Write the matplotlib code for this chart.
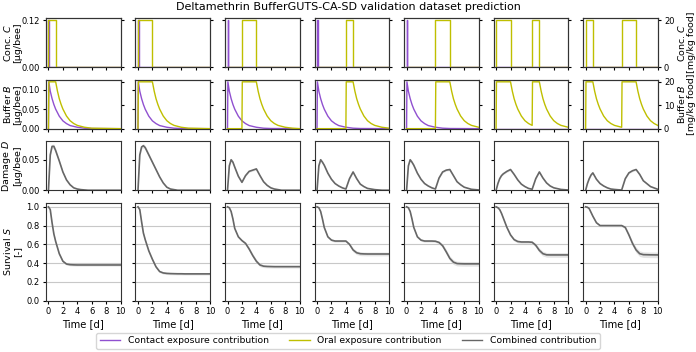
import numpy as np
import matplotlib
matplotlib.use("Agg")
from matplotlib import pyplot as plt
from matplotlib.lines import Line2D

# ---- data ----
title = "Deltamethrin BufferGUTS-CA-SD validation dataset prediction"
n_cols = 7

# exposure scenario per column
has_contact = [True, True, True, True, True, False, False]
contact_level = 0.12          # µg/bee
contact_pulse = (0.0, 0.1)    # d
oral_level = 20.0             # mg/kg food
oral_windows = [
    [(0, 1)],
    [(0, 2)],
    [(2, 4)],
    [(4, 5)],
    [(4, 6)],
    [(0, 2), (5, 6)],
    [(0, 1), (5, 7)],
]

# contact buffer (same in every column with contact exposure)
contact_b_t = [0, 0.05, 0.25, 0.5, 0.75, 1, 1.5, 2, 2.5, 3, 4, 5, 6, 10]
contact_b = [0, 0.12, 0.096, 0.077, 0.062, 0.050, 0.032, 0.020, 0.013, 0.008,
             0.0036, 0.0012, 0.0004, 0]

# oral buffer per column
oral_b_t = [
    [0, 0.05, 1, 1.25, 1.5, 1.75, 2, 2.5, 3, 3.5, 4, 5, 6, 10],
    [0, 0.05, 2, 2.25, 2.5, 2.75, 3, 3.5, 4, 4.5, 5, 6, 7, 10],
    [0, 2, 2.05, 4, 4.25, 4.5, 4.75, 5, 5.5, 6, 6.5, 7, 8, 9, 10],
    [0, 4, 4.05, 5, 5.25, 5.5, 5.75, 6, 6.5, 7, 7.5, 8, 9, 10],
    [0, 4, 4.05, 6, 6.25, 6.5, 6.75, 7, 7.5, 8, 8.5, 9, 10],
    [0, 0.05, 2, 2.25, 2.5, 2.75, 3, 3.5, 4, 4.5, 5, 5.05, 6, 6.25, 6.5, 6.75,
     7, 7.5, 8, 8.5, 9, 10],
    [0, 0.05, 1, 1.25, 1.5, 1.75, 2, 2.5, 3, 3.5, 4, 5, 5.05, 7, 7.25, 7.5,
     7.75, 8, 8.5, 9, 9.5, 10],
]
oral_b = [
    [0, 20, 20, 16, 12.8, 10.4, 8.4, 5.4, 3.4, 2.2, 1.4, 0.6, 0.2, 0],
    [0, 20, 20, 16, 12.8, 10.4, 8.4, 5.4, 3.4, 2.2, 1.4, 0.6, 0.2, 0],
    [0, 0, 20, 20, 16, 12.8, 10.4, 8.4, 5.4, 3.4, 2.2, 1.4, 0.6, 0.2, 0],
    [0, 0, 20, 20, 16, 12.8, 10.4, 8.4, 5.4, 3.4, 2.2, 1.4, 0.6, 0.2],
    [0, 0, 20, 20, 16, 12.8, 10.4, 8.4, 5.4, 3.4, 2.2, 1.4, 0.6],
    [0, 20, 20, 16, 12.8, 10.4, 8.4, 5.4, 3.4, 2.2, 1.4, 20, 20, 16, 12.8, 10.4,
     8.4, 5.4, 3.4, 2.2, 1.4, 0.6],
    [0, 20, 20, 16, 12.8, 10.4, 8.4, 5.4, 3.4, 2.2, 1.4, 0.6, 20, 20, 16, 12.8,
     10.4, 8.4, 5.4, 3.4, 2.2, 1.4],
]

# damage and survival on a common time grid
t_grid = [0, 0.25, 0.5, 0.75, 1, 1.5, 2, 2.5, 3, 3.5, 4, 4.5, 5, 5.5, 6, 6.5,
          7, 7.5, 8, 9, 10]
damage = [
    [0, .058, .072, .072, .065, .048, .030, .017, .009, .004, .002, .001, .0005,
     0, 0, 0, 0, 0, 0, 0, 0],
    [0, .058, .071, .073, .070, .058, .046, .034, .022, .012, .005, .002, .001,
     0, 0, 0, 0, 0, 0, 0, 0],
    [0, .040, .050, .046, .038, .023, .013, .024, .031, .033, .035, .024, .014,
     .008, .004, .002, .001, 0, 0, 0, 0],
    [0, .040, .050, .046, .041, .028, .018, .011, .007, .004, .002, .019, .030,
     .019, .010, .006, .003, .002, .001, 0, 0],
    [0, .040, .050, .046, .041, .028, .018, .011, .007, .004, .002, .020, .030,
     .033, .034, .024, .014, .009, .005, .0015, .0005],
    [0, .011, .019, .024, .027, .031, .034, .026, .017, .010, .006, .003, .0016,
     .019, .030, .020, .012, .007, .004, .0013, .0004],
    [0, .011, .019, .025, .0285, .018, .011, .007, .004, .002, .0013, .0008,
     .0004, .019, .0285, .032, .034, .026, .0156, .006, .0016],
]
survival = [
    [1, .97, .83, .71, .63, .50, .42, .39, .383, .381, .38, .38, .38, .38, .38,
     .38, .38, .38, .38, .38, .38],
    [1, .97, .84, .72, .65, .53, .44, .36, .31, .295, .29, .288, .287, .286,
     .286, .285, .285, .285, .285, .285, .285],
    [1, .99, .95, .87, .77, .68, .64, .61, .55, .48, .42, .38, .367, .364, .363,
     .362, .362, .362, .362, .362, .362],
    [1, .99, .95, .87, .78, .68, .645, .635, .635, .635, .635, .60, .54, .51,
     .50, .498, .497, .497, .497, .497, .497],
    [1, .99, .95, .87, .78, .68, .645, .635, .635, .635, .633, .62, .585, .52,
     .45, .41, .395, .393, .392, .392, .392],
    [1, .99, .97, .93, .88, .78, .70, .65, .63, .625, .625, .625, .622, .59,
     .535, .50, .488, .487, .487, .487, .487],
    [1, .995, .98, .94, .90, .83, .80, .80, .80, .80, .80, .80, .80, .78, .70,
     .61, .54, .50, .49, .488, .487],
]
survival_hw = [
    [0, .003, .008, .012, .015, .015, .015, .012, .012, .012, .012, .012, .012,
     .012, .012, .012, .012, .012, .012, .012, .012],
    [0, .003, .008, .012, .015, .015, .015, .013, .012, .012, .012, .012, .012,
     .012, .012, .012, .012, .012, .012, .012, .012],
    [0, .002, .005, .008, .010, .012, .012, .015, .020, .020, .020, .018, .015,
     .015, .015, .015, .015, .015, .015, .015, .015],
    [0, .002, .005, .008, .010, .012, .012, .012, .012, .012, .012, .015, .020,
     .020, .020, .020, .020, .020, .020, .020, .020],
    [0, .002, .005, .008, .010, .012, .012, .012, .012, .012, .012, .015, .020,
     .025, .025, .025, .025, .025, .025, .025, .025],
    [0, 0, .003, .006, .010, .012, .015, .015, .015, .015, .015, .015, .015,
     .020, .025, .025, .025, .025, .025, .025, .025],
    [0, 0, .002, .004, .006, .010, .012, .012, .012, .012, .012, .012, .012,
     .015, .020, .025, .030, .030, .030, .030, .030],
]

c_contact = "#9050d0"
c_oral = "#bfbf00"
c_comb = "#666666"

plt.rcParams["font.family"] = "DejaVu Sans"
plt.rcParams["font.size"] = 6.8
plt.rcParams["xtick.labelsize"] = 6
plt.rcParams["ytick.labelsize"] = 6
plt.rcParams["xtick.major.size"] = 2.5
plt.rcParams["ytick.major.size"] = 2.5
plt.rcParams["xtick.major.pad"] = 2
plt.rcParams["ytick.major.pad"] = 2
plt.rcParams["axes.labelpad"] = 2
plt.rcParams["axes.edgecolor"] = "#333333"

fig = plt.figure(figsize=(6.96, 3.52), dpi=100)
gs = fig.add_gridspec(4, n_cols, height_ratios=[1, 1, 1, 2],
                      left=0.066, right=0.945, top=0.948, bottom=0.146,
                      hspace=0.21, wspace=0.2)

left_lab_x = -0.32
right_lab_x = 1.245
lab_kw = dict(linespacing=1.05)


def step_series(windows, level, t_end=10):
    ts, vs = [0], [0]
    for s, e in windows:
        ts += [s, s, e, e]
        vs += [0, level, level, 0]
    ts.append(t_end)
    vs.append(0)
    return ts, vs


for j in range(n_cols):
    axs = [fig.add_subplot(gs[i, j]) for i in range(4)]
    for ax in axs:
        ax.set_xlim(-0.35, 10)
        ax.set_xticks(range(0, 11, 2))
        if ax is not axs[3]:
            ax.tick_params(labelbottom=False)

    # row 1: concentration
    ax = axs[0]
    if has_contact[j]:
        s, e = contact_pulse
        ax.plot([0, s, s, e, e, 10], [0, 0, contact_level, contact_level, 0, 0],
                color=c_contact, lw=1)
    else:
        ax.plot([0, 10], [0, 0], color=c_contact, lw=1)
    ax.set_ylim(0, 0.125)
    ax.set_yticks([0, 0.12])
    ax2 = ax.twinx()
    ts, vs = step_series(oral_windows[j], oral_level)
    ax2.plot(ts, vs, color=c_oral, lw=1)
    ax2.set_ylim(0, 20.83)
    ax2.set_yticks([0, 20])
    if j == 0:
        ax.set_ylabel("Conc. $C$\n[µg/bee]", **lab_kw)
        ax.yaxis.set_label_coords(left_lab_x, 0.5)
    else:
        ax.tick_params(labelleft=False)
    if j == n_cols - 1:
        ax2.set_ylabel("Conc. $C$\n[mg/kg food]", **lab_kw)
        ax2.yaxis.set_label_coords(right_lab_x, 0.5)
    else:
        ax2.tick_params(labelright=False)

    # row 2: buffer
    ax = axs[1]
    if has_contact[j]:
        ax.plot(contact_b_t, contact_b, color=c_contact, lw=1)
    else:
        ax.plot([0, 10], [0, 0], color=c_contact, lw=1)
    ax.set_ylim(0, 0.125)
    ax.set_yticks([0, 0.05, 0.10])
    ax2 = ax.twinx()
    ax2.plot(oral_b_t[j], oral_b[j], color=c_oral, lw=1)
    ax2.set_ylim(0, 20.83)
    ax2.set_yticks([0, 10, 20])
    if j == 0:
        ax.set_ylabel("Buffer $B$\n[µg/bee]", **lab_kw)
        ax.yaxis.set_label_coords(left_lab_x, 0.5)
    else:
        ax.tick_params(labelleft=False)
    if j == n_cols - 1:
        ax2.set_ylabel("Buffer $B$\n[mg/kg food]", **lab_kw)
        ax2.yaxis.set_label_coords(right_lab_x, 0.5)
    else:
        ax2.tick_params(labelright=False)

    # row 3: damage
    ax = axs[2]
    d = np.array(damage[j])
    ax.fill_between(t_grid, d * 0.95, d * 1.05, color="#d9d9d9", alpha=0.6, lw=0)
    ax.plot(t_grid, d, color=c_comb, lw=1.2)
    ax.set_ylim(0, 0.08)
    ax.set_yticks([0, 0.05])
    if j == 0:
        ax.set_ylabel("Damage $D$\n[µg/bee]", **lab_kw)
        ax.yaxis.set_label_coords(left_lab_x, 0.5)
    else:
        ax.tick_params(labelleft=False)

    # row 4: survival
    ax = axs[3]
    sv = np.array(survival[j])
    hw = np.array(survival_hw[j])
    ax.fill_between(t_grid, sv - hw, sv + hw, color="#d9d9d9", alpha=0.7, lw=0)
    ax.plot(t_grid, sv, color=c_comb, lw=1.2)
    ax.set_ylim(0, 1.04)
    ax.set_yticks([0, 0.2, 0.4, 0.6, 0.8, 1.0])
    ax.grid(axis="y", color="#c8c8c8", lw=0.8)
    ax.set_axisbelow(True)
    ax.set_xlabel("Time [d]", fontsize=7.2)
    if j == 0:
        ax.set_ylabel("Survival $S$\n[-]", **lab_kw)
        ax.yaxis.set_label_coords(left_lab_x, 0.5)
    else:
        ax.tick_params(labelleft=False)

fig.suptitle(title, fontsize=8, y=0.995)

handles = [Line2D([], [], color=c_contact, lw=1),
           Line2D([], [], color=c_oral, lw=1),
           Line2D([], [], color=c_comb, lw=1)]
fig.legend(handles, ["Contact exposure contribution", "Oral exposure contribution",
                     "Combined contribution"],
           loc="lower center", ncol=3, bbox_to_anchor=(0.5, -0.005),
           fontsize=6.7, frameon=True, handlelength=2.2, columnspacing=2.2,
           borderpad=0.4)

fig.savefig("out.png", dpi=100)
